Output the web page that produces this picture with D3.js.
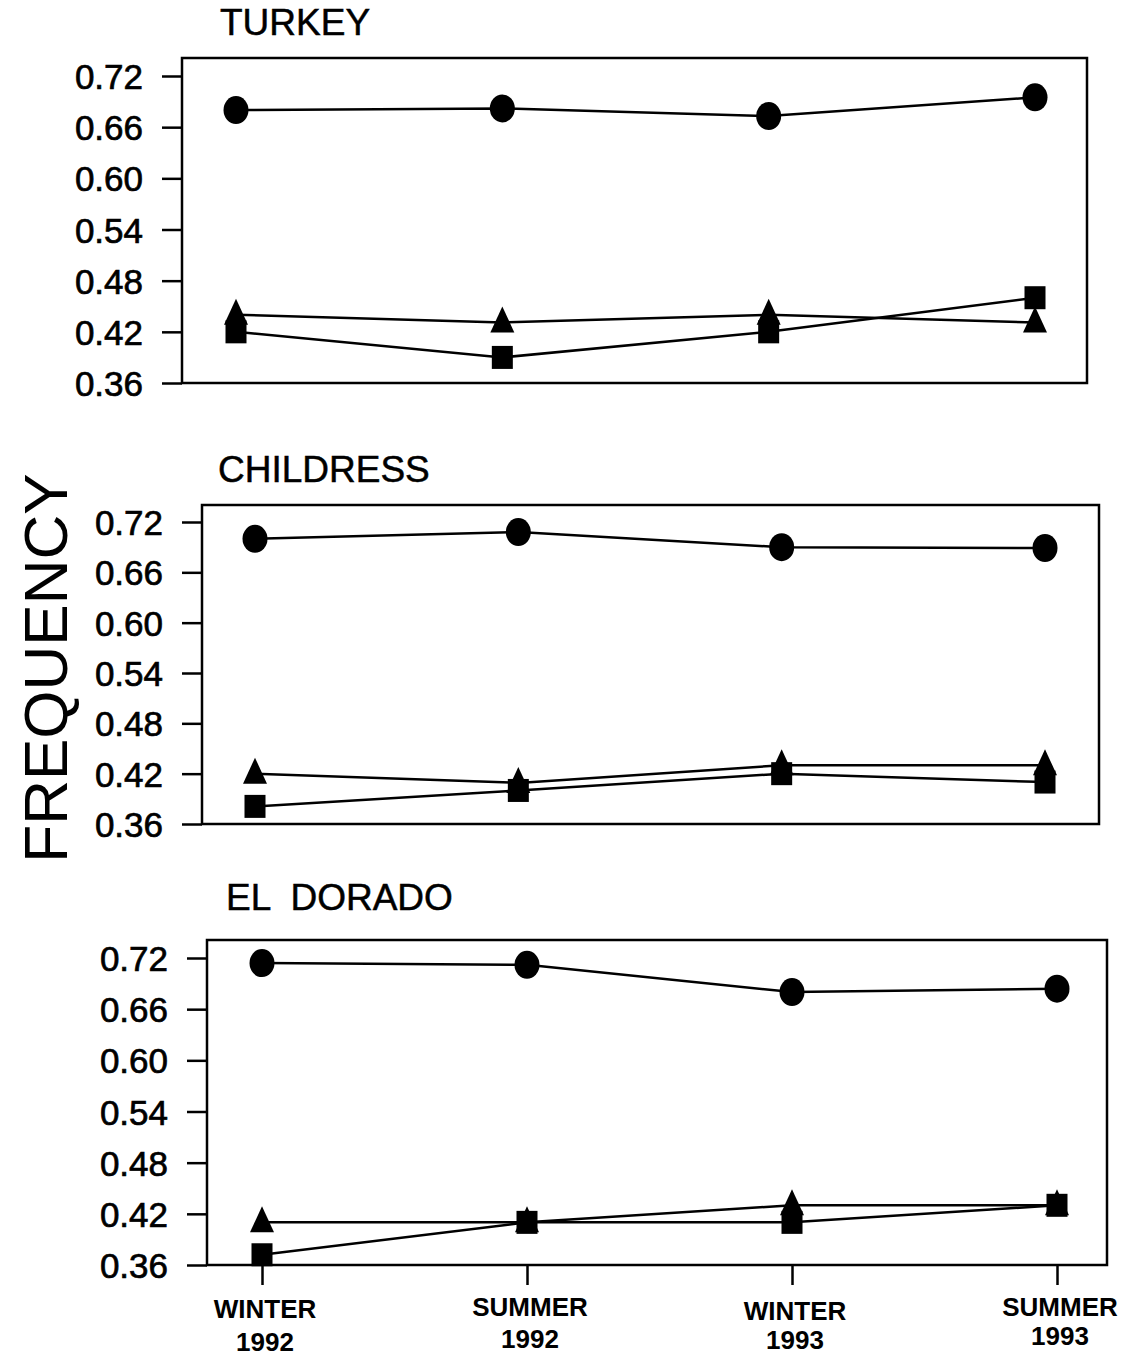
<!DOCTYPE html>
<html><head><meta charset="utf-8">
<script src="https://cdn.jsdelivr.net/npm/d3@7"></script>
<style>body{margin:0;background:#fff}svg{display:block}</style>
</head><body>
<script>
const categories = ["WINTER 1992","SUMMER 1992","WINTER 1993","SUMMER 1993"];
const yTicks = [0.36,0.42,0.48,0.54,0.60,0.66,0.72];
const sites = ["TURKEY","CHILDRESS","EL  DORADO"];
const turkeyCircle = [0.68,0.682,0.673,0.695];
const turkeyTriangle = [0.44,0.431,0.44,0.431];
const turkeySquare = [0.42,0.39,0.42,0.46];
const childressCircle = [0.70,0.708,0.69,0.689];
const childressTriangle = [0.42,0.409,0.43,0.43];
const childressSquare = [0.381,0.40,0.42,0.41];
const eldoradoCircle = [0.714,0.712,0.68,0.684];
const eldoradoTriangle = [0.41,0.41,0.43,0.43];
const eldoradoSquare = [0.372,0.41,0.41,0.43];
const siteSeries = [
  {circle:turkeyCircle, triangle:turkeyTriangle, square:turkeySquare},
  {circle:childressCircle, triangle:childressTriangle, square:childressSquare},
  {circle:eldoradoCircle, triangle:eldoradoTriangle, square:eldoradoSquare}
];

const W=1122,H=1357;
const svg=d3.select("body").append("svg").attr("width",W).attr("height",H)
  .style("font-family","'Liberation Sans',Arial,sans-serif");

const layouts=[
  {left:182,right:1087,top:58,y72:76,y36:383,xs:[236,1035],labelX:143,tickLen:20,titleX:220,titleY:35},
  {left:202,right:1099,top:505,y72:522,y36:824,xs:[255,1045],labelX:163,tickLen:20,titleX:218,titleY:482},
  {left:207,right:1107,top:940,y72:958,y36:1265,xs:[262,1057],labelX:168,tickLen:20,titleX:226,titleY:910}
];

layouts.forEach((L,i)=>{
  const g=svg.append("g");
  const y=d3.scaleLinear().domain([0.36,0.72]).range([L.y36,L.y72]);
  const x=d3.scalePoint().domain(categories).range(L.xs);
  g.append("rect").attr("x",L.left).attr("y",L.top).attr("width",L.right-L.left).attr("height",L.y36-L.top)
    .attr("fill","none").attr("stroke","#000").attr("stroke-width",2.5);
  const ax=g.append("g").attr("transform",`translate(${L.left},0)`)
    .call(d3.axisLeft(y).tickValues(yTicks).tickFormat(d3.format(".2f")).tickSize(L.tickLen).tickPadding(0));
  ax.select(".domain").remove();
  ax.selectAll(".tick line").attr("stroke","#000").attr("stroke-width",2.5);
  ax.selectAll(".tick text").attr("x",L.labelX-L.left).attr("dy","0.36em")
    .attr("font-size",35).attr("fill","#000").attr("stroke","#000").attr("stroke-width",0.7).attr("text-anchor","end")
    .style("font-family","'Liberation Sans',Arial,sans-serif");
  g.append("text").attr("x",L.titleX).attr("y",L.titleY).attr("font-size",37).attr("stroke","#000").attr("stroke-width",0.5)
    .style("white-space","pre").text(sites[i]);
  const s=siteSeries[i];
  const line=d3.line().x((d,j)=>x(categories[j])).y(d=>y(d));
  ["circle","triangle","square"].forEach(k=>{
    g.append("path").attr("d",line(s[k])).attr("fill","none").attr("stroke","#000").attr("stroke-width",2.5);
  });
  g.selectAll(".sq").data(s.square).join("rect")
    .attr("x",(d,j)=>x(categories[j])-10.5).attr("y",d=>y(d)-11.5).attr("width",21).attr("height",23).attr("fill","#000");
  g.selectAll(".tri").data(s.triangle).join("path")
    .attr("d",(d,j)=>{const cx=x(categories[j]),cy=y(d);return `M${cx},${cy-16}L${cx+12},${cy+10}L${cx-12},${cy+10}Z`;})
    .attr("fill","#000");
  g.selectAll(".ci").data(s.circle).join("ellipse")
    .attr("cx",(d,j)=>x(categories[j])).attr("cy",d=>y(d)).attr("rx",12.5).attr("ry",14).attr("fill","#000");
  if(i===2){
    const xa=g.append("g").attr("transform",`translate(0,${L.y36})`)
      .call(d3.axisBottom(x).tickSize(20).tickFormat(""));
    xa.select(".domain").remove();
    xa.selectAll(".tick line").attr("stroke","#000").attr("stroke-width",2.5);
    const labY=[[1318,1351],[1316,1348],[1320,1349],[1316,1345]];
    categories.forEach((c,j)=>{
      const parts=c.split(" ");
      const t=g.append("text").attr("text-anchor","middle").attr("font-size",26).attr("font-weight","bold")
        .attr("font-family","'Liberation Sans Narrow','Liberation Sans',Arial,sans-serif");
      t.append("tspan").attr("x",x(c)+3).attr("y",labY[j][0]).text(parts[0]);
      t.append("tspan").attr("x",x(c)+3).attr("y",labY[j][1]).text(parts[1]);
    });
  }
});
svg.append("text").attr("transform","translate(67,668) rotate(-90)").attr("text-anchor","middle")
  .attr("font-size",62).text("FREQUENCY");
</script>
</body></html>
